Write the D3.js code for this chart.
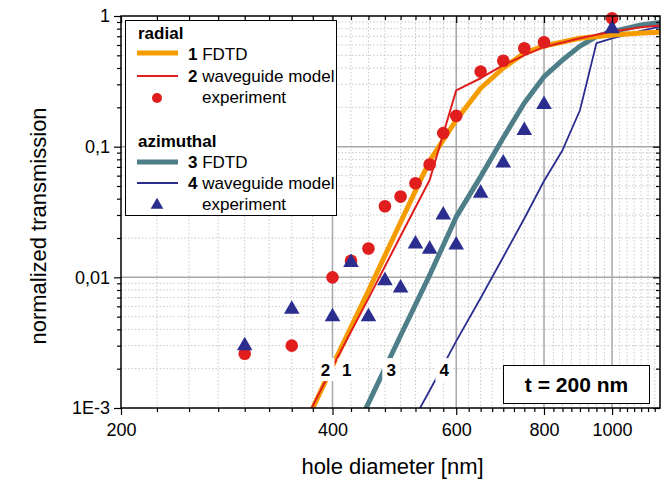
<!DOCTYPE html>
<html>
<head>
<meta charset="utf-8">
<script src="https://cdn.jsdelivr.net/npm/d3@7"></script>
<style>
  body { margin: 0; background: #fff; }
  text { font-family: "Liberation Sans", Arial, sans-serif; }
</style>
</head>
<body>
<div id="chart"></div>
<script>
// measured points (same diameters for both polarisations)
const expDiameters = [300, 350, 400, 425, 450, 475, 500, 525, 550, 575, 600, 650, 700, 750, 800, 1000];
const radialExp    = [0.0026, 0.0030, 0.010, 0.0134, 0.0166, 0.035, 0.0415, 0.0525, 0.073, 0.127, 0.172, 0.375, 0.455, 0.566, 0.63, 0.96];
const azimuthalExp = [0.0030, 0.0057, 0.0050, 0.013, 0.0050, 0.0094, 0.0083, 0.018, 0.0164, 0.030, 0.0177, 0.044, 0.075, 0.133, 0.21, 0.80];

// 1: radial FDTD
const fdtdRadialD = [350, 400, 450, 500, 550, 600, 650, 700, 750, 800, 900, 1000, 1100, 1170];
const fdtdRadialT = [0.00045, 0.0021, 0.0079, 0.0264, 0.078, 0.16, 0.28, 0.40, 0.52, 0.59, 0.675, 0.716, 0.74, 0.75];
// 2: radial waveguide model
const wgRadialD = [350, 400, 450, 500, 550, 575, 600, 650, 700, 750, 800, 900, 1000, 1100, 1170];
const wgRadialT = [0.0005, 0.00206, 0.0069, 0.0207, 0.0556, 0.125, 0.27, 0.334, 0.42, 0.50, 0.58, 0.675, 0.76, 0.82, 0.845];
// 3: azimuthal FDTD
const fdtdAzimD = [440, 450, 500, 550, 600, 650, 700, 750, 800, 850, 900, 950, 1000, 1100, 1170];
const fdtdAzimT = [0.00085, 0.00109, 0.00359, 0.0104, 0.029, 0.059, 0.117, 0.216, 0.343, 0.46, 0.588, 0.697, 0.758, 0.853, 0.892];
// 4: azimuthal waveguide model
const wgAzimD = [525, 550, 600, 650, 700, 750, 800, 850, 900, 950, 1000, 1100, 1170];
const wgAzimT = [0.000865, 0.00136, 0.00325, 0.00695, 0.0143, 0.0282, 0.0546, 0.094, 0.19, 0.62, 0.675, 0.769, 0.83];

// curve number labels, placed in data space
const curveLabels = ["2", "1", "3", "4"];
const curveLabelD = [391, 419, 485, 577];
const curveLabelT = 0.00195;

const xMajor = [200, 400, 600, 800, 1000];
const yMajor = [1e-3, 1e-2, 1e-1, 1];
const yMajorLabels = ["1E-3", "0,01", "0,1", "1"];

const ORANGE = "#f59c00", RED = "#e01e1e", TEAL = "#4e7e88", NAVY = "#2b2e8f";

const W = 669, H = 486;
const plot = { left: 121, right: 660, top: 16, bottom: 408 };

const svg = d3.select("#chart").append("svg")
    .attr("width", W).attr("height", H);

const x = d3.scaleLog().domain([200, 1170]).range([plot.left, plot.right]);
const y = d3.scaleLog().domain([1e-3, 1]).range([plot.bottom, plot.top]);

// minor tick positions
const xMinor = d3.range(225, 1170, 25).filter(d => d % 200 !== 0);
const yMinor = [];
[1e-3, 1e-2, 1e-1].forEach(dec => { for (let k = 2; k <= 9; k++) yMinor.push(dec * k); });

// grid: dotted minor, solid major
const grid = svg.append("g");
grid.selectAll(".gxm").data(xMinor).enter().append("line")
    .attr("x1", d => x(d)).attr("x2", d => x(d))
    .attr("y1", plot.top).attr("y2", plot.bottom)
    .attr("stroke", "#c8c8c8").attr("stroke-dasharray", "1.5,2");
grid.selectAll(".gym").data(yMinor).enter().append("line")
    .attr("y1", d => y(d)).attr("y2", d => y(d))
    .attr("x1", plot.left).attr("x2", plot.right)
    .attr("stroke", "#c8c8c8").attr("stroke-dasharray", "1.5,2");
grid.selectAll(".gx").data(xMajor.slice(1)).enter().append("line")
    .attr("x1", d => x(d)).attr("x2", d => x(d))
    .attr("y1", plot.top).attr("y2", plot.bottom)
    .attr("stroke", "#a8a8a8").attr("stroke-width", 1.5);
grid.selectAll(".gy").data([1e-2, 1e-1]).enter().append("line")
    .attr("y1", d => y(d)).attr("y2", d => y(d))
    .attr("x1", plot.left).attr("x2", plot.right)
    .attr("stroke", "#a8a8a8").attr("stroke-width", 1.5);

// clipping for curves
svg.append("defs").append("clipPath").attr("id", "clip")
    .append("rect")
    .attr("x", plot.left).attr("y", plot.top)
    .attr("width", plot.right - plot.left).attr("height", plot.bottom - plot.top);

const line = d3.line().x(d => x(d[0])).y(d => y(d[1]));
const curves = svg.append("g").attr("clip-path", "url(#clip)");

function drawCurve(ds, ts, color, width) {
    curves.append("path")
        .datum(ds.map((d, i) => [d, ts[i]]))
        .attr("d", line)
        .attr("fill", "none")
        .attr("stroke", color)
        .attr("stroke-width", width)
        .attr("stroke-linejoin", "round");
}
drawCurve(fdtdAzimD, fdtdAzimT, TEAL, 5);
drawCurve(wgAzimD, wgAzimT, NAVY, 1.8);
drawCurve(fdtdRadialD, fdtdRadialT, ORANGE, 5);
drawCurve(wgRadialD, wgRadialT, RED, 2);

// curve labels with white boxes
const lab = svg.append("g");
curveLabels.forEach((t, i) => {
    const cx = x(curveLabelD[i]), cy = y(curveLabelT);
    lab.append("rect")
        .attr("x", cx - 9).attr("y", cy - 12)
        .attr("width", 18).attr("height", 23)
        .attr("fill", "#fff");
    lab.append("text")
        .attr("x", cx).attr("y", cy + 6)
        .attr("text-anchor", "middle")
        .attr("font-size", 17).attr("font-weight", "bold")
        .text(t);
});

// experimental points
const tri = d3.symbol().type(d3.symbolTriangle).size(105);
svg.append("g").selectAll("circle")
    .data(expDiameters.map((d, i) => [d, radialExp[i]]))
    .enter().append("circle")
    .attr("cx", d => x(d[0])).attr("cy", d => y(d[1]))
    .attr("r", 6.3).attr("fill", RED);
svg.append("g").selectAll("path")
    .data(expDiameters.map((d, i) => [d, azimuthalExp[i]]))
    .enter().append("path")
    .attr("d", tri)
    .attr("transform", d => `translate(${x(d[0])},${y(d[1])})`)
    .attr("fill", NAVY);

// axes
const axisStyle = g => {
    g.select(".domain").remove();
    g.selectAll("line").attr("stroke", "#000").attr("stroke-width", 1.2);
};
const fmtX = d => d;
svg.append("g").attr("transform", `translate(0,${plot.bottom})`)
    .call(d3.axisBottom(x).tickValues(xMajor).tickFormat(fmtX).tickSize(7).tickPadding(8))
    .call(axisStyle)
    .call(g => g.selectAll("text").attr("font-size", 18).attr("fill", "#000")
        .style("font-family", "'Liberation Sans', Arial, sans-serif"));
svg.append("g").attr("transform", `translate(0,${plot.bottom})`)
    .call(d3.axisBottom(x).tickValues(xMinor).tickFormat("").tickSize(4))
    .call(axisStyle);
svg.append("g").attr("transform", `translate(${plot.left},0)`)
    .call(d3.axisLeft(y).tickValues(yMajor).tickFormat((d, i) => yMajorLabels[i]).tickSize(7).tickPadding(4))
    .call(axisStyle)
    .call(g => g.selectAll("text").attr("font-size", 18).attr("fill", "#000")
        .style("font-family", "'Liberation Sans', Arial, sans-serif"));
svg.append("g").attr("transform", `translate(${plot.left},0)`)
    .call(d3.axisLeft(y).tickValues(yMinor).tickFormat("").tickSize(4))
    .call(axisStyle);
// inward ticks on top and right
svg.append("g").attr("transform", `translate(0,${plot.top})`)
    .call(d3.axisTop(x).tickValues(xMajor).tickFormat("").tickSize(-7))
    .call(axisStyle);
svg.append("g").attr("transform", `translate(0,${plot.top})`)
    .call(d3.axisTop(x).tickValues(xMinor).tickFormat("").tickSize(-4))
    .call(axisStyle);
svg.append("g").attr("transform", `translate(${plot.right},0)`)
    .call(d3.axisRight(y).tickValues(yMajor).tickFormat("").tickSize(-7))
    .call(axisStyle);
svg.append("g").attr("transform", `translate(${plot.right},0)`)
    .call(d3.axisRight(y).tickValues(yMinor).tickFormat("").tickSize(-4))
    .call(axisStyle);

// frame
svg.append("rect")
    .attr("x", plot.left).attr("y", plot.top)
    .attr("width", plot.right - plot.left).attr("height", plot.bottom - plot.top)
    .attr("fill", "none").attr("stroke", "#000").attr("stroke-width", 1.5);

// axis titles
svg.append("text")
    .attr("x", (plot.left + plot.right) / 2 + 2).attr("y", 474)
    .attr("text-anchor", "middle").attr("font-size", 22)
    .text("hole diameter [nm]");
svg.append("text")
    .attr("transform", `translate(46,${(plot.top + plot.bottom) / 2 + 14}) rotate(-90)`)
    .attr("text-anchor", "middle").attr("font-size", 22)
    .text("normalized transmission");

// legend
const leg = svg.append("g");
leg.append("rect")
    .attr("x", 125.5).attr("y", 20.5).attr("width", 211).attr("height", 195)
    .attr("fill", "#fff").attr("stroke", "#000").attr("stroke-width", 1);

const legText = (tx, ty, num, label, bold) => {
    const t = leg.append("text").attr("x", tx).attr("y", ty).attr("font-size", 17);
    if (bold) { t.attr("font-weight", "bold").text(label); return; }
    if (num) t.append("tspan").attr("font-weight", "bold").text(num + " ");
    t.append("tspan").text(label);
};
const legLine = (ly, color, width) => leg.append("line")
    .attr("x1", 137).attr("x2", 178).attr("y1", ly).attr("y2", ly)
    .attr("stroke", color).attr("stroke-width", width);

legText(138, 39, null, "radial", true);
legLine(53, ORANGE, 5);  legText(188, 60, "1", "FDTD");
legLine(76, RED, 2);     legText(188, 82, "2", "waveguide model");
leg.append("circle").attr("cx", 157).attr("cy", 98).attr("r", 5).attr("fill", RED);
legText(202, 103, null, "experiment");

legText(138, 147, null, "azimuthal", true);
legLine(162, TEAL, 5);   legText(188, 168, "3", "FDTD");
legLine(183, NAVY, 1.8); legText(188, 189, "4", "waveguide model");
leg.append("path").attr("d", d3.symbol().type(d3.symbolTriangle).size(70))
    .attr("transform", "translate(157,205)").attr("fill", NAVY);
legText(202, 210, null, "experiment");

// thickness box
svg.append("rect")
    .attr("x", 503.5).attr("y", 365.5).attr("width", 146).attr("height", 38)
    .attr("fill", "#fff").attr("stroke", "#000").attr("stroke-width", 1);
svg.append("text")
    .attr("x", 576.5).attr("y", 392)
    .attr("text-anchor", "middle").attr("font-size", 21).attr("font-weight", "bold")
    .text("t = 200 nm");
</script>
</body>
</html>
